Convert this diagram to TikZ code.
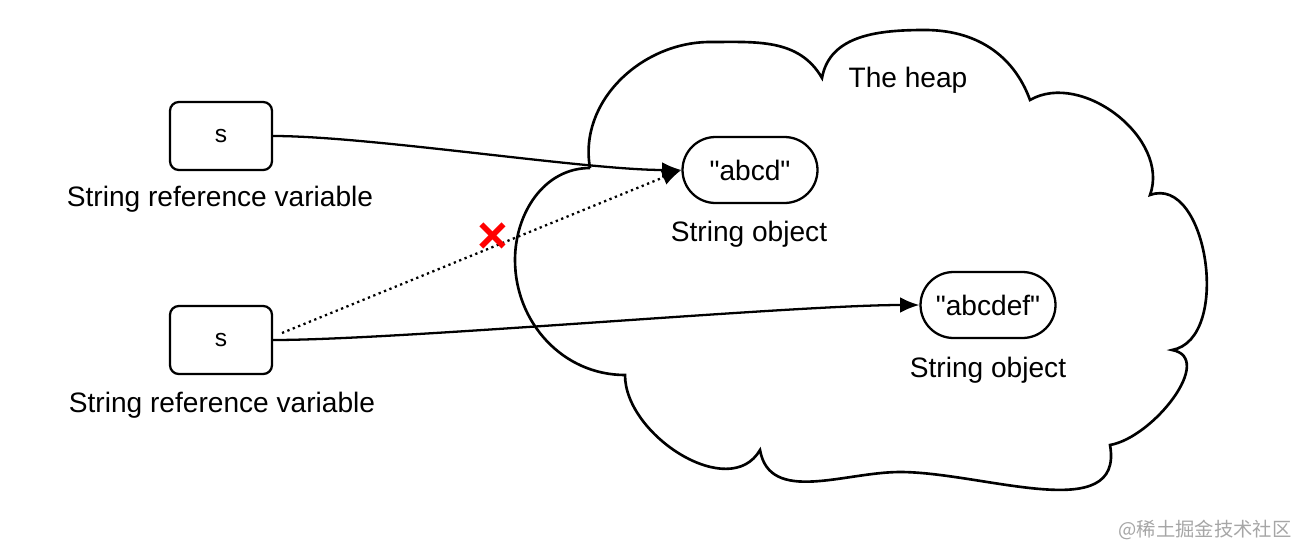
\documentclass[tikz,border=0pt]{standalone}
\usepackage{fontspec}
\setmainfont{Liberation Sans}
\newfontfamily\cjk{Noto Sans CJK SC}
\usetikzlibrary{arrows.meta}
\newcommand{\dq}{\XeTeXglyph\XeTeXcharglyph"22\relax}
\begin{document}
\begin{tikzpicture}[x=0.02cm,y=-0.02cm,
  varbox/.style={draw,line width=1.3pt,rounded corners=5pt,minimum width=2.04cm,minimum height=1.36cm,font=\fontsize{14}{16}\selectfont},
  objbox/.style={draw,line width=1.3pt,rounded corners=0.66cm,minimum width=2.7cm,minimum height=1.32cm,font=\fontsize{16}{18}\selectfont},
  lab/.style={font=\fontsize{16}{18}\selectfont},
  ref/.style={line width=1.3pt,-{Latex[length=11pt,width=9pt]}}]
\useasboundingbox (0,0) rectangle (1300,558);
% cloud
\draw[line width=1.5pt,fill=white] (590,168)
  to[out=100,in=180] (710,42) to[out=0,in=120] (822,78)
  to[out=80,in=180] (925,30) to[out=0,in=110] (1030,100)
  to[out=30,in=70] (1150,195)
  to[out=20,in=10] (1172,350)
  to[out=-10,in=10] (1110,445)
  to[out=-80,in=0] (900,472) to[out=180,in=-80] (760,450)
  to[out=-120,in=-90] (625,375)
  to[out=180,in=270] (515,260) to[out=90,in=180] (590,168);
\node[varbox] (s1) at (221,136) {s};
\node[varbox] (s2) at (221,340) {s};
\node[lab] (l1) at (220,199) {String reference variable};
\node[lab] (l2) at (222,405) {String reference variable};
\node[objbox] (o1) at (750,170) {\dq abcd\dq};
\node[objbox] (o2) at (988,305) {\dq abcdef\dq};
\node[lab] (ol1) at (749,234) {String object};
\node[lab] (ol2) at (988,370) {String object};
\node[lab] (heap) at (908,80) {The heap};
\draw[ref] (s1.east) to[out=0,in=180,looseness=0.6] (o1.west);
\draw[ref] (s2.east) to[out=0,in=180,looseness=0.5] (o2.west);
\coordinate (d0) at (282,333);
\draw[line width=1.3pt,dotted,-{Latex[length=11pt,width=9pt]}] (d0) -- (o1.west);
\node[text=red,font=\fontsize{30}{30}\selectfont\bfseries] (x) at (493,238) {\texttimes};
\node[text=gray!70,font=\cjk\fontsize{11}{13}\selectfont] (wm) at (1205,530) {@稀土掘金技术社区};
\end{tikzpicture}
\end{document}
